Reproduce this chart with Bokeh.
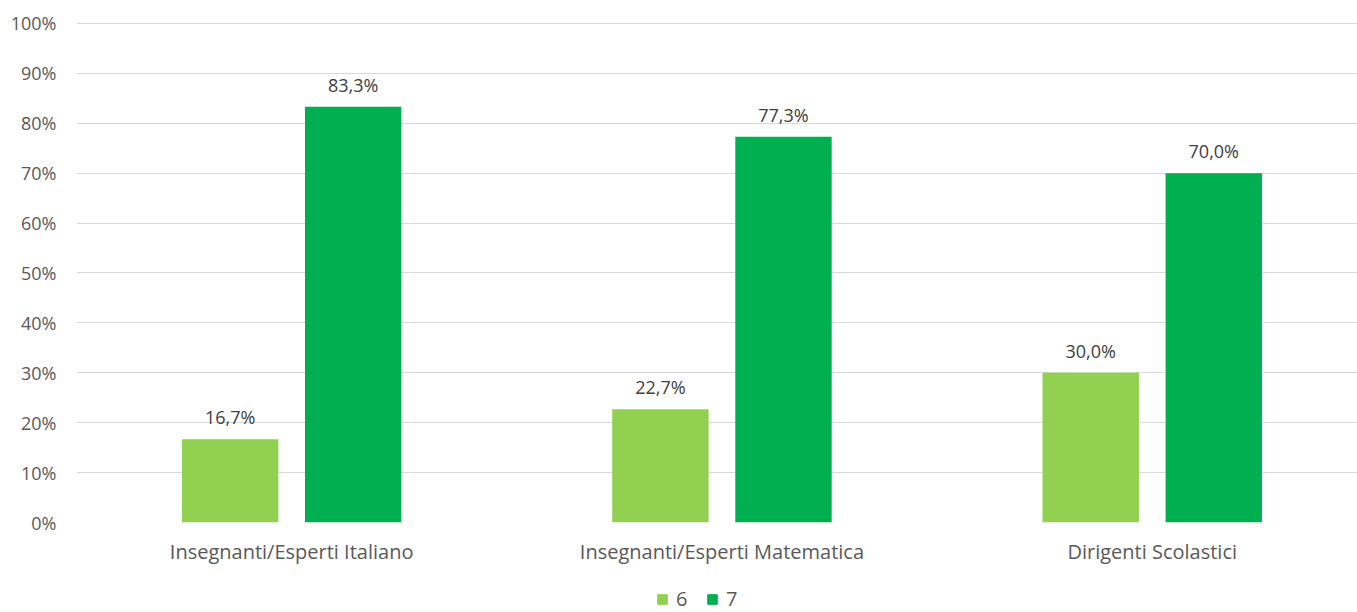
from bokeh.plotting import figure
from bokeh.layouts import column
from bokeh.models import ColumnDataSource, Range1d, FixedTicker, Legend, LegendItem, LabelSet, NumeralTickFormatter
from bokeh.core.properties import value
from bokeh.embed import file_html
from bokeh.resources import INLINE
from bokeh.transform import dodge

categories = ["Insegnanti/Esperti Italiano", "Insegnanti/Esperti Matematica", "Dirigenti Scolastici"]
series_names = ["6", "7"]
values_6 = [0.167, 0.227, 0.300]
values_7 = [0.833, 0.773, 0.700]
y_ticks = [0, 0.1, 0.2, 0.3, 0.4, 0.5, 0.6, 0.7, 0.8, 0.9, 1.0]

COLORS = ["#92D050", "#00B050"]
idx = list(range(len(categories)))
fmt = lambda v: f"{v*100:.1f}%".replace(".", ",")
src = ColumnDataSource(dict(
    x=idx, v6=values_6, v7=values_7,
    l6=[fmt(v) for v in values_6], l7=[fmt(v) for v in values_7],
))

FONT = "Open Sans"
GRAY = "#595959"

p = figure(width=1357, height=582, output_backend="svg", toolbar_location=None,
           x_range=Range1d(-0.5, 2.477), y_range=Range1d(0, 1.002),
           min_border_left=76, min_border_right=0, min_border_top=22, min_border_bottom=60)
p.outline_line_color = None
p.background_fill_color = "white"

p.vbar(x=dodge("x", -0.143, range=p.x_range), top="v6", width=0.224, source=src,
       color=COLORS[0], line_color=None)
p.vbar(x=dodge("x", 0.143, range=p.x_range), top="v7", width=0.224, source=src,
       color=COLORS[1], line_color=None)

for col, lab, off in (("v6", "l6", -0.143), ("v7", "l7", 0.143)):
    p.add_layout(LabelSet(x=dodge("x", off, range=p.x_range), y=col, text=lab, source=src,
                          y_offset=10, text_align="center", text_baseline="bottom",
                          text_font=value(FONT), text_font_size=value("18px"), text_color="#404040"))

p.xgrid.grid_line_color = None
p.ygrid.grid_line_color = "#D9D9D9"
p.ygrid.grid_line_width = 1
p.yaxis.ticker = FixedTicker(ticks=y_ticks)
p.yaxis.formatter = NumeralTickFormatter(format="0%")
p.xaxis.ticker = FixedTicker(ticks=idx)
p.xaxis.major_label_overrides = {i: c for i, c in zip(idx, categories)}
for ax in (p.xaxis, p.yaxis):
    ax.axis_line_color = None
    ax.major_tick_line_color = None
    ax.minor_tick_line_color = None
    ax.major_label_text_font = FONT
    ax.major_label_text_color = GRAY
p.yaxis.major_label_text_font_size = "18px"
p.xaxis.major_label_text_font_size = "20px"
p.yaxis.major_label_standoff = 14
p.xaxis.major_label_standoff = 9

# legend strip below the chart (its renderers draw nothing inside the strip)
lg = figure(width=1357, height=30, output_backend="svg", toolbar_location=None,
            x_range=Range1d(0, 1281), y_range=Range1d(0, 30),
            x_axis_location=None, y_axis_location=None,
            min_border_left=76, min_border_right=0, min_border_top=0, min_border_bottom=0)
lg.outline_line_color = None
lg.xgrid.grid_line_color = None
lg.ygrid.grid_line_color = None
dummy = ColumnDataSource(dict(x=[-1000], top=[0]))
items = []
for name, c in zip(series_names, COLORS):
    r = lg.vbar(x="x", top="top", width=1, source=dummy, fill_color=c, line_color=c)
    items.append(LegendItem(label=name, renderers=[r]))
legend = Legend(items=items, orientation="horizontal", location=(580, 0), margin=0,
                padding=0, spacing=10, glyph_width=12, glyph_height=12,
                label_text_font=FONT, label_text_font_size="20px", label_text_color=GRAY,
                label_standoff=8, border_line_color=None, background_fill_alpha=0)
lg.add_layout(legend, "center")

layout = column(p, lg, spacing=0)
open("out.html", "w").write(file_html(layout, INLINE))
